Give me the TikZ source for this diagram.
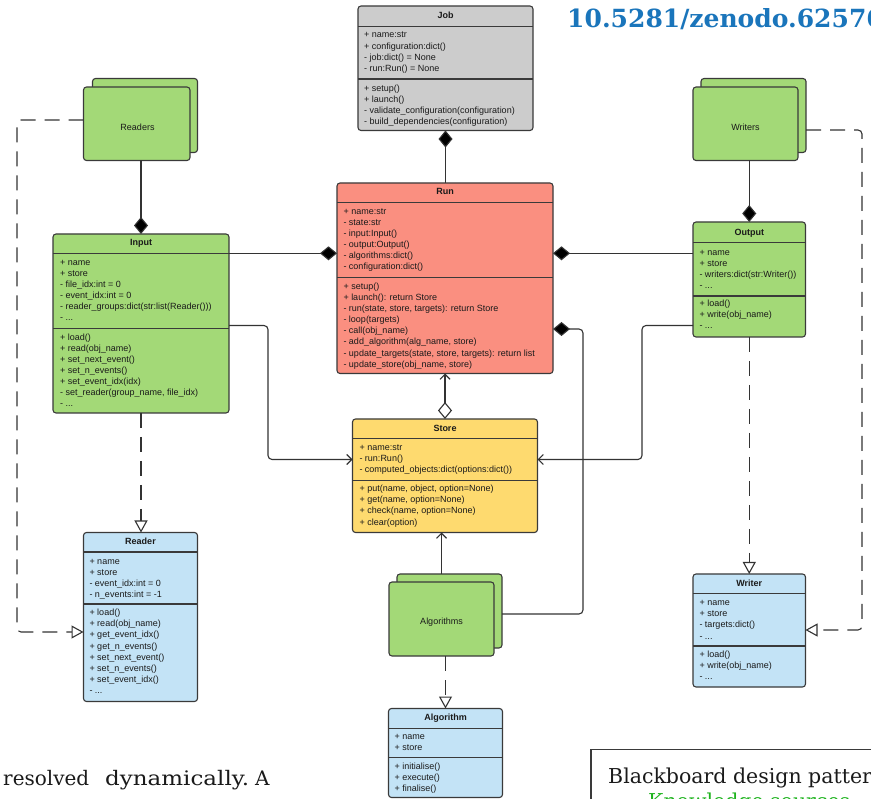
\documentclass[tikz,border=0pt]{standalone}
\usepackage{fontspec}
\setmainfont{Liberation Sans}
\newfontfamily\pagefont{DejaVu Serif}
\usetikzlibrary{arrows.meta}
\definecolor{cgreen}{HTML}{A3D977}
\definecolor{cred}{HTML}{FA8F80}
\definecolor{cyellow}{HTML}{FEDA6F}
\definecolor{cblue}{HTML}{C3E3F6}
\definecolor{cgray}{HTML}{CCCCCC}
\definecolor{cborder}{HTML}{3A3A3A}
\definecolor{cline}{HTML}{333333}
\definecolor{ctext}{HTML}{1A1A1A}
\definecolor{doiblue}{HTML}{1A75BB}
\definecolor{kgreen}{HTML}{1DB31D}
\tikzset{
  x=1pt, y=-1pt,
  cls/.style={draw=cborder, line width=1.1pt, rounded corners=3pt, inner sep=0pt, outer sep=0pt, anchor=north west},
  sepl/.style={draw=cborder, line width=1.1pt},
  ttl/.style={anchor=base, inner sep=0pt, text=ctext, font=\bfseries\fontsize{9}{11.1}\selectfont},
  txt/.style={anchor=north west, align=left, inner sep=0pt, text=ctext, font=\fontsize{9}{11.1}\selectfont},
  lbl/.style={text=ctext, font=\fontsize{9}{11.1}\selectfont},
  conn/.style={draw=cline, line width=1.1pt},
  dconn/.style={conn, dash pattern=on 15pt off 9pt},
  comp/.tip={Diamond[length=17pt,width=14pt,fill=black]},
  agg/.tip={Diamond[length=17pt,width=14pt,fill=white]},
  gen/.tip={Triangle[length=12pt,width=13pt,fill=white]},
  barb/.tip={Straight Barb[length=5pt,width=10pt]},
  pagetext/.style={anchor=base west, inner sep=0pt, text=ctext, font=\pagefont\fontsize{20}{24}\selectfont},
  boxtext/.style={anchor=base west, inner sep=0pt, text=ctext, font=\pagefont\fontsize{20.5}{24}\selectfont}
}
\begin{document}
\begin{tikzpicture}
\useasboundingbox (0,0) rectangle (871,799);
\clip (0,0) rectangle (871,799);
\fill[white] (0,0) rectangle (871,799);

% ---------------- Job ----------------
\node[cls, fill=cgray, minimum width=175pt, minimum height=124.5pt] (job) at (358,6) {};
\node[ttl] (jobt) at (job.north |- 0,18.3) {Job};
\draw[sepl] (job.west |- 0,26.7) -- (job.east |- 0,26.7);
\draw[sepl] (job.west |- 0,79) -- (job.east |- 0,79);
\node[txt] (joba) at (364,30) {\strut + name:str\\+ configuration:dict()\\- job:dict() = None\\- run:Run() = None};
\node[txt] (jobm) at (364,83.2) {\strut + setup()\\+ launch()\\- validate\_configuration(configuration)\\- build\_dependencies(configuration)};

% ---------------- Run ----------------
\node[cls, fill=cred, minimum width=216pt, minimum height=190.5pt] (run) at (337,183) {};
\node[ttl] (runt) at (run.north |- 0,194.3) {Run};
\draw[sepl] (run.west |- 0,202.7) -- (run.east |- 0,202.7);
\draw[sepl] (run.west |- 0,277.7) -- (run.east |- 0,277.7);
\node[txt] (runa) at (343.3,206.2) {\strut + name:str\\- state:str\\- input:Input()\\- output:Output()\\- algorithms:dict()\\- configuration:dict()};
\node[txt] (runm) at (343.3,281.5) {\strut + setup()\\+ launch(): return Store\\- run(state, store, targets): return Store\\- loop(targets)\\- call(obj\_name)\\- add\_algorithm(alg\_name, store)\\- update\_targets(state, store, targets): return list\\- update\_store(obj\_name, store)};

% ---------------- Input ----------------
\node[cls, fill=cgreen, minimum width=176pt, minimum height=179pt] (input) at (53,234) {};
\node[ttl] (inputt) at (input.north |- 0,245.6) {Input};
\draw[sepl] (input.west |- 0,253.3) -- (input.east |- 0,253.3);
\draw[sepl] (input.west |- 0,328.3) -- (input.east |- 0,328.3);
\node[txt] (inputa) at (60,257.2) {\strut + name\\+ store\\- file\_idx:int = 0\\- event\_idx:int = 0\\- reader\_groups:dict(str:list(Reader()))\\- ...};
\node[txt] (inputm) at (60,332.2) {\strut + load()\\+ read(obj\_name)\\+ set\_next\_event()\\+ set\_n\_events()\\+ set\_event\_idx(idx)\\- set\_reader(group\_name, file\_idx)\\- ...};

% ---------------- Output ----------------
\node[cls, fill=cgreen, minimum width=112.5pt, minimum height=115pt] (output) at (693,222) {};
\node[ttl] (outputt) at (output.north |- 0,235.6) {Output};
\draw[sepl] (output.west |- 0,242.7) -- (output.east |- 0,242.7);
\draw[sepl] (output.west |- 0,296) -- (output.east |- 0,296);
\node[txt] (outputa) at (699.3,247.2) {\strut + name\\+ store\\- writers:dict(str:Writer())\\- ...};
\node[txt] (outputm) at (699.3,298.8) {\strut + load()\\+ write(obj\_name)\\- ...};

% ---------------- Store ----------------
\node[cls, fill=cyellow, minimum width=185pt, minimum height=113.5pt] (store) at (352.5,419) {};
\node[ttl] (storet) at (store.north |- 0,431.6) {Store};
\draw[sepl] (store.west |- 0,438.3) -- (store.east |- 0,438.3);
\draw[sepl] (store.west |- 0,480.7) -- (store.east |- 0,480.7);
\node[txt] (storea) at (359.3,442.8) {\strut + name:str\\- run:Run()\\- computed\_objects:dict(options:dict())};
\node[txt] (storem) at (359.3,483.8) {\strut + put(name, object, option=None)\\+ get(name, option=None)\\+ check(name, option=None)\\+ clear(option)};

% ---------------- Reader ----------------
\node[cls, fill=cblue, minimum width=114pt, minimum height=169pt] (reader) at (83.5,532.5) {};
\node[ttl] (readert) at (reader.north |- 0,545) {Reader};
\draw[sepl] (reader.west |- 0,552) -- (reader.east |- 0,552);
\draw[sepl] (reader.west |- 0,604) -- (reader.east |- 0,604);
\node[txt] (readera) at (89.3,556.2) {\strut + name\\+ store\\- event\_idx:int = 0\\- n\_events:int = -1};
\node[txt] (readerm) at (89.3,607.8) {\strut + load()\\+ read(obj\_name)\\+ get\_event\_idx()\\+ get\_n\_events()\\+ set\_next\_event()\\+ set\_n\_events()\\+ set\_event\_idx()\\- ...};

% ---------------- Writer ----------------
\node[cls, fill=cblue, minimum width=112.5pt, minimum height=113pt] (writer) at (693,574) {};
\node[ttl] (writert) at (writer.north |- 0,586.6) {Writer};
\draw[sepl] (writer.west |- 0,593.3) -- (writer.east |- 0,593.3);
\draw[sepl] (writer.west |- 0,646) -- (writer.east |- 0,646);
\node[txt] (writera) at (699.3,597.8) {\strut + name\\+ store\\- targets:dict()\\- ...};
\node[txt] (writerm) at (699.3,649.8) {\strut + load()\\+ write(obj\_name)\\- ...};

% ---------------- Algorithm ----------------
\node[cls, fill=cblue, minimum width=114pt, minimum height=89pt] (algorithm) at (388.5,708.5) {};
\node[ttl] (algorithmt) at (algorithm.north |- 0,720) {Algorithm};
\draw[sepl] (algorithm.west |- 0,728.3) -- (algorithm.east |- 0,728.3);
\draw[sepl] (algorithm.west |- 0,757.3) -- (algorithm.east |- 0,757.3);
\node[txt] (algorithma) at (394.3,731.2) {\strut + name\\+ store};
\node[txt] (algorithmm) at (394.3,761.2) {\strut + initialise()\\+ execute()\\+ finalise()};

% ---------------- stacked boxes ----------------
\node[cls, fill=cgreen, minimum width=105pt, minimum height=74pt] (readersb) at (92.5,78.5) {};
\node[cls, fill=cgreen, minimum width=106.5pt, minimum height=73.5pt] (readers) at (83.5,87) {};
\node[lbl] (readersl) at (137.5,127.3) {Readers};

\node[cls, fill=cgreen, minimum width=105pt, minimum height=74pt] (writersb) at (701,78.5) {};
\node[cls, fill=cgreen, minimum width=105pt, minimum height=73.5pt] (writers) at (693,87) {};
\node[lbl] (writersl) at (745.5,127.3) {Writers};

\node[cls, fill=cgreen, minimum width=105pt, minimum height=74pt] (algsb) at (397,574) {};
\node[cls, fill=cgreen, minimum width=105pt, minimum height=74pt] (algs) at (389,582) {};
\node[lbl] (algsl) at (441.5,622) {Algorithms};

% ---------------- connectors ----------------
\draw[conn, {comp}-] (job.south) -- (job.south |- run.north);
\draw[conn, -{comp}] (input.north |- readers.south) -- (input.north);
\draw[conn, -{comp}] (input.east |- 0,253.3) -- (run.west |- 0,253.3);
\draw[conn, -{comp}] (output.west |- 0,253.3) -- (run.east |- 0,253.3);
\draw[conn, -{comp}] (output.north |- writers.south) -- (output.north);
\draw[conn, {barb}-{agg}] (run.south) -- (run.south |- store.north);
\draw[conn, -{barb}, rounded corners=4pt] (input.east |- 0,325.5) -- (268,325.5) -- (268,459.5) -- (store.west |- 0,459.5);
\draw[conn, -{barb}, rounded corners=4pt] (output.west |- 0,325.5) -- (642,325.5) -- (642,459.5) -- (store.east |- 0,459.5);
\draw[conn, -{barb}] (algs.north |- algsb.north) -- (algs.north |- store.south);
\draw[conn, -{comp}, rounded corners=4pt] (algsb.east |- 0,614) -- (583,614) -- (583,329) -- (run.east |- 0,329);

\draw[dconn, -{gen}] (input.south) -- (input.south |- reader.north);
\draw[dconn, -{gen}] (output.south) -- (output.south |- writer.north);
\draw[dconn, -{gen}] (algorithm.north |- algs.south) -- (algorithm.north);
\draw[dconn, -{gen}, rounded corners=4pt] (readers.west |- 0,120) -- (17,120) -- (17,632) -- (reader.west |- 0,632);
\draw[dconn, -{gen}, rounded corners=4pt] (writersb.east |- 0,130) -- (862,130) -- (862,630) -- (writer.east |- 0,630);

% ---------------- page fragments ----------------
\node[anchor=base west, inner sep=0pt, text=doiblue, font=\pagefont\bfseries\fontsize{25}{30}\selectfont] (doi) at (567,28) {10.5281/zenodo.62576};
\node[pagetext] (w1) at (3,785) {resolved};
\node[pagetext] (w2) at (105,785) {\scalebox{1.15}[1]{dynamically.}};
\node[pagetext] (w3) at (255,785) {A};
\draw[draw=cborder, line width=1.3pt] (591,749.5) rectangle (910,840);
\node[boxtext] (bb) at (608,783) {Blackboard design pattern};
\node[boxtext, text=kgreen] (ks) at (648,808) {Knowledge sources};
\end{tikzpicture}
\end{document}
